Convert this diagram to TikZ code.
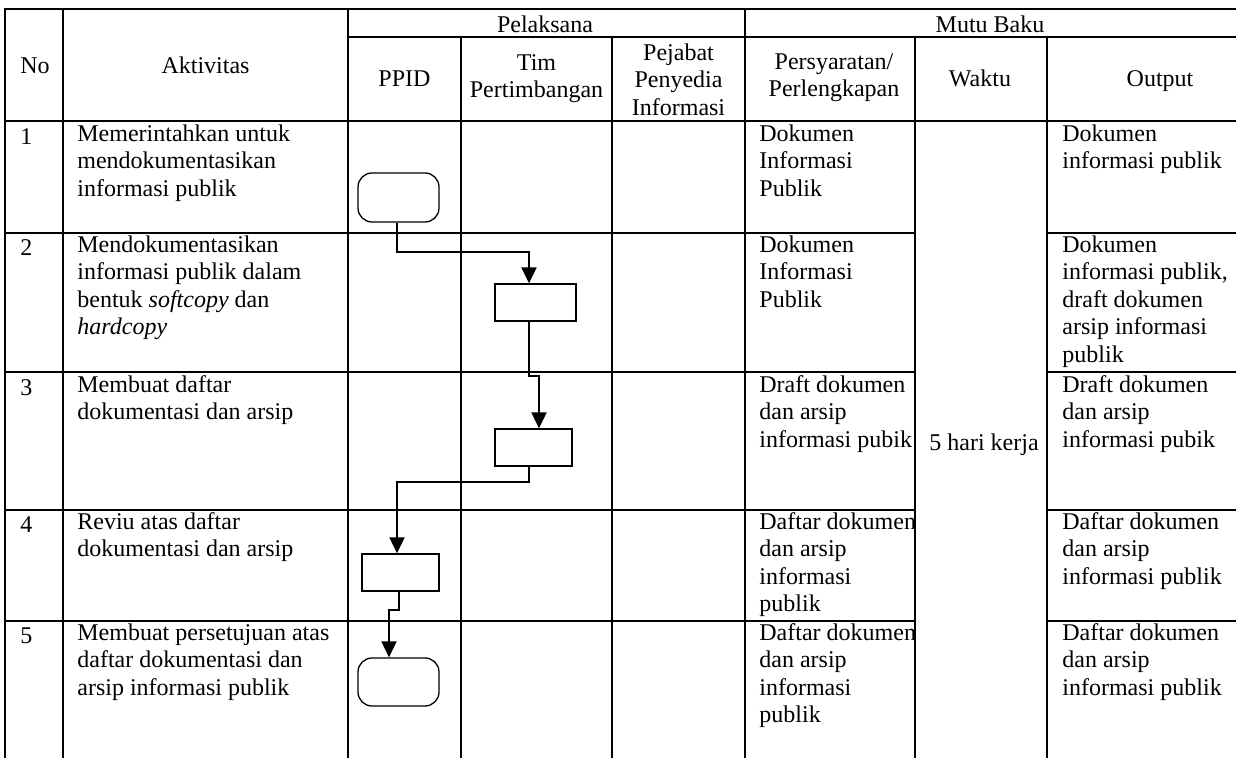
\documentclass[tikz,border=0pt]{standalone}
\usepackage{fontspec}
\setmainfont{Liberation Serif}
\usetikzlibrary{arrows.meta,positioning}

% first line of every text sits 10pt below the top of its node
\newcommand{\topline}{\rule{0pt}{10pt}}

\begin{document}
\begin{tikzpicture}[
    x=0.5pt, y=-0.5pt,
    grid/.style={line width=1pt},
    cell/.style={anchor=north west, inner sep=0pt, align=left, font=\fontsize{12}{13.75}\selectfont, execute at begin node=\topline},
    head/.style={anchor=north, inner sep=0pt, align=center, font=\fontsize{12}{13.75}\selectfont, execute at begin node=\topline},
    terminal/.style={draw, line width=0.65pt, rounded corners=7pt, minimum width=40.5pt, minimum height=24.5pt, inner sep=0pt},
    process/.style={draw, line width=0.65pt, minimum width=40.5pt, minimum height=18.5pt, inner sep=0pt},
    flow/.style={-{Triangle[length=8pt,width=7.5pt]}, line width=1pt}
]
\useasboundingbox (0,0) rectangle (1236,758);

% table lines
\draw[grid] (1236,9) -- (5,9) -- (5,758);
\draw[grid] (63,9) -- (63,758);
\draw[grid] (348,9) -- (348,758);
\draw[grid] (745,9) -- (745,758);
\draw[grid] (461,37) -- (461,758);
\draw[grid] (612,37) -- (612,758);
\draw[grid] (915,37) -- (915,758);
\draw[grid] (1047,37) -- (1047,758);
\draw[grid] (348,37) -- (1236,37);
\draw[grid] (5,121) -- (1236,121);
\foreach \y in {233,372,510,621} {
  \draw[grid] (5,\y) -- (915,\y);
  \draw[grid] (1047,\y) -- (1236,\y);
}

% header (y = first baseline - 20)
\node[head] (h_no) at (35,53) {No};
\node[head] (h_akt) at (205.5,53) {Aktivitas};
\node[head] (h_pel) at (545,12) {Pelaksana};
\node[head] (h_mutu) at (990,12) {Mutu Baku};
\node[head] (h_ppid) at (404.5,66) {PPID};
\node[head] (h_tim) at (536.5,54) {Tim\\Pertimbangan};
\node[head] (h_pej) at (678.5,43) {Pejabat\\Penyedia\\Informasi};
\node[head] (h_syarat) at (834,53) {Persyaratan/\\Perlengkapan};
\node[head] (h_waktu) at (980,66) {Waktu};
\node[head] (h_out) at (1160,66) {Output};

% rows
\node[cell] (no1) at (20,124) {1};
\node[cell] (akt1) at (77,124) {Memerintahkan untuk\\mendokumentasikan\\informasi publik};
\node[cell] (syarat1) at (759,124) {Dokumen\\Informasi\\Publik};
\node[cell] (out1) at (1062,124) {Dokumen\\informasi publik};

\node[cell] (no2) at (20,235) {2};
\node[cell] (akt2) at (77,235) {Mendokumentasikan\\informasi publik dalam\\bentuk \textit{softcopy} dan\\\textit{hardcopy}};
\node[cell] (syarat2) at (759,235) {Dokumen\\Informasi\\Publik};
\node[cell] (out2) at (1062,235) {Dokumen\\informasi publik,\\draft dokumen\\arsip informasi\\publik};

\node[cell] (no3) at (20,375) {3};
\node[cell] (akt3) at (77,375) {Membuat daftar\\dokumentasi dan arsip};
\node[cell] (syarat3) at (759,375) {Draft dokumen\\dan arsip\\informasi pubik};
\node[cell] (out3) at (1062,375) {Draft dokumen\\dan arsip\\informasi pubik};

\node[cell] (no4) at (20,512) {4};
\node[cell] (akt4) at (77,512) {Reviu atas daftar\\dokumentasi dan arsip};
\node[cell] (syarat4) at (759,512) {Daftar dokumen\\dan arsip\\informasi\\publik};
\node[cell] (out4) at (1062,512) {Daftar dokumen\\dan arsip\\informasi publik};

\node[cell] (no5) at (20,623) {5};
\node[cell] (akt5) at (77,623) {Membuat persetujuan atas\\daftar dokumentasi dan\\arsip informasi publik};
\node[cell] (syarat5) at (759,623) {Daftar dokumen\\dan arsip\\informasi\\publik};
\node[cell] (out5) at (1062,623) {Daftar dokumen\\dan arsip\\informasi publik};

\node[head] (waktu) at (984,430) {5 hari kerja};

% flow
\node[terminal] (start) at (398.5,197.5) {};
\node[process] (dok) at (535.5,302.5) {};
\node[process, minimum width=38.5pt] (daftar) at (533.5,447.5) {};
\node[process, minimum width=38.5pt] (reviu) at (400.5,572.5) {};
\node[terminal, minimum height=24pt] (setuju) at (398.5,682) {};

\draw[flow] ([xshift=-0.75pt]start.south) -- ++(0,29) -| ([xshift=-3.25pt]dok.north);
\draw[flow] ([xshift=-3.25pt]dok.south) -- ++(0,54) -| ([xshift=2.75pt]daftar.north);
\draw[flow] ([xshift=-2.25pt]daftar.south) -- ++(0,15) -| ([xshift=-1.75pt]reviu.north);
\draw[flow] ([xshift=-0.75pt]reviu.south) -- ++(0,18) -| ([xshift=-4.75pt]setuju.north);

\end{tikzpicture}
\end{document}
